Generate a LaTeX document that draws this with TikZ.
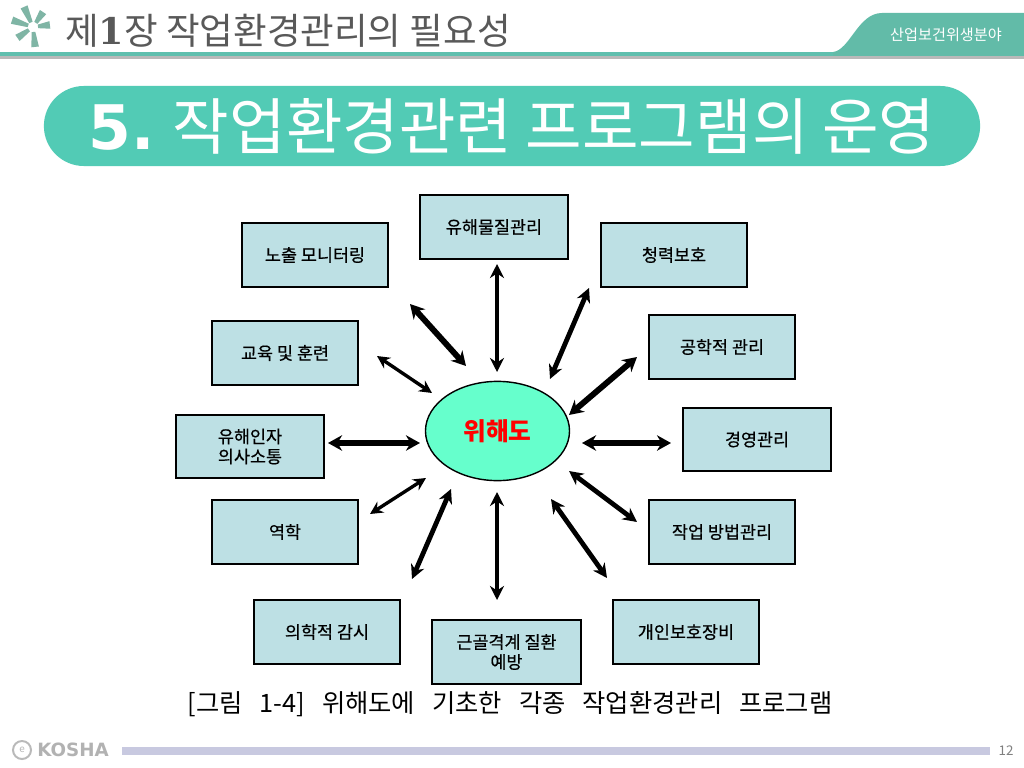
\documentclass[tikz,border=0pt]{standalone}
\usepackage{fontspec}
\setmainfont{Noto Sans CJK KR}
\newfontfamily\logofont{DejaVu Sans}
\newfontfamily\slabfont{DejaVu Serif}
\newfontfamily\captionfont[WordSpace=3]{Noto Sans CJK KR}
\usetikzlibrary{arrows.meta,positioning,shapes.geometric}
\definecolor{boxfill}{HTML}{BDE0E4}
\definecolor{hubfill}{HTML}{66FFCC}
\definecolor{bannerteal}{HTML}{52CBB5}
\definecolor{tabteal}{HTML}{62BBA8}
\definecolor{lineteal}{HTML}{5FBFAE}
\definecolor{logogreen}{HTML}{7FB5A5}
\definecolor{footbar}{HTML}{C8C9E0}
\tikzset{
  taskbox/.style={draw=black, line width=1.4pt, fill=boxfill, minimum width=3.67cm, minimum height=1.58cm, inner sep=0pt, align=center, font=\fontsize{12.4}{14.2}\selectfont\addfontfeature{FakeBold=0.5}},
  widebox/.style={taskbox, minimum width=3.72cm},
  hub/.style={draw=black, line width=1pt, fill=hubfill, ellipse, minimum width=3.6cm, minimum height=2.48cm, inner sep=0pt, text=red, font=\fontsize{17.6}{20}\bfseries\selectfont},
  linkthin/.style={<->, >={Stealth[length=9pt,width=9pt]}, line width=2.4pt},
  linkmid/.style={<->, >={Stealth[length=10pt,width=10pt]}, line width=3.4pt},
  linkwide/.style={<->, >={Stealth[length=10pt,width=11pt]}, line width=4.2pt}
}
\begin{document}
\begin{tikzpicture}[x=0.025cm, y=-0.025cm]
\useasboundingbox (0,0) rectangle (1024,768);
\fill[white] (0,0) rectangle (1024,768);

% header
\fill[gray!55] (0,56) rectangle (1024,59);
\fill[lineteal] (0,52) rectangle (1024,56);
\fill[tabteal] (833,52) .. controls (850,50) and (858,13) .. (882,13) -- (1024,13) -- (1024,56) -- (833,56) -- cycle;
\foreach \ang/\len in {114/22,56/18,162/22,215/19,276/20,7/17}
  \fill[logogreen, shift={(33,27)}, rotate=\ang] (5,-1.8) -- (\len,-3.8) -- (\len,3.8) -- (5,1.8) -- cycle;
\node[anchor=west, inner sep=0pt, text=black!65, font=\fontsize{26}{28}\selectfont] (chapter) at (65,31) {제{\slabfont\bfseries 1}장 작업환경관리의 필요성};
\node[inner sep=0pt, text=white, font=\fontsize{10.8}{12}\selectfont] (field) at (946,35) {산업보건위생분야};

% banner
\node[fill=bannerteal, rounded corners=1cm, minimum width=23.4cm, minimum height=2cm, inner sep=0pt, text=white, font=\fontsize{43.7}{48}\selectfont] (banner) at (512,126) {{\logofont\bfseries 5.} 작업환경관련 프로그램의 운영};

% boxes
\node[hub] (risk) at (497.5,431) {위해도};
\node[widebox] (material) at (494,227) {유해물질관리};
\node[taskbox] (exposure) at (315,255) {노출 모니터링};
\node[taskbox] (training) at (285,353) {교육 및 훈련};
\node[widebox] (notice) at (250,446.5) {유해인자\\의사소통};
\node[taskbox] (epidem) at (285,532) {역학};
\node[taskbox] (medical) at (327,632) {의학적 감시};
\node[widebox] (muscle) at (506.5,652) {근골격계 질환\\예방};
\node[taskbox] (gear) at (686,632) {개인보호장비};
\node[taskbox] (method) at (722,532) {작업 방법관리};
\node[widebox] (manage) at (757,439.5) {경영관리};
\node[taskbox] (engineer) at (722,347) {공학적 관리};
\node[taskbox] (hearing) at (674,255) {청력보호};

% arrow ends
\coordinate (materialA) at (497,264); \coordinate (materialB) at (497,372);
\coordinate (exposureA) at (410,304); \coordinate (exposureB) at (466,366);
\coordinate (trainingA) at (377,356); \coordinate (trainingB) at (432,393);
\coordinate (noticeA) at (328,443); \coordinate (noticeB) at (420,443);
\coordinate (epidemA) at (370,514); \coordinate (epidemB) at (426,478);
\coordinate (medicalA) at (412,579); \coordinate (medicalB) at (451,489);
\coordinate (muscleA) at (497,492); \coordinate (muscleB) at (497,600);
\coordinate (gearA) at (551,499); \coordinate (gearB) at (607,578);
\coordinate (methodA) at (569,471); \coordinate (methodB) at (637,522);
\coordinate (manageA) at (582,443); \coordinate (manageB) at (671,443);
\coordinate (engineerA) at (569,415); \coordinate (engineerB) at (637,357);
\coordinate (hearingA) at (550,379); \coordinate (hearingB) at (589,288);

\draw[linkmid] (materialA) -- (materialB);
\draw[linkwide] (exposureA) -- (exposureB);
\draw[linkthin] (trainingA) -- (trainingB);
\draw[linkwide] (noticeA) -- (noticeB);
\draw[linkthin] (epidemA) -- (epidemB);
\draw[linkmid] (medicalA) -- (medicalB);
\draw[linkmid] (muscleA) -- (muscleB);
\draw[linkmid] (gearA) -- (gearB);
\draw[linkmid] (methodA) -- (methodB);
\draw[linkwide] (manageA) -- (manageB);
\draw[linkwide] (engineerA) -- (engineerB);
\draw[linkmid] (hearingA) -- (hearingB);

% caption and footer
\node[inner sep=0pt, font=\captionfont\fontsize{18}{20}\selectfont] (caption) at (510,704) {[그림 1-4] 위해도에 기초한 각종 작업환경관리 프로그램};
\draw[gray!55, line width=1.4pt] (22,750) circle (9);
\node[inner sep=0pt, text=gray!55, font=\fontsize{7}{8}\selectfont] (logoe) at (22,750) {e};
\node[anchor=west, inner sep=0pt, text=gray!60, font=\logofont\fontsize{13}{15}\bfseries\selectfont] (kosha) at (37,750) {KOSHA};
\fill[footbar] (122,747) rectangle (990,755);
\node[inner sep=0pt, text=gray, font=\fontsize{9.5}{11}\selectfont] (pageno) at (1006,751) {12};
\end{tikzpicture}
\end{document}
